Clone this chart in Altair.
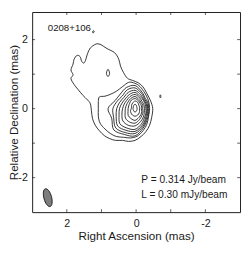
import math
import altair as alt
import pandas as pd

FONT = "Liberation Sans"
INK = "#1a1a1a"

# ---------------- data (mas; RA offset increases to the left) ----------------
SOURCE_NAME = "0208+106"
SOURCE_POS = (2.55, 2.32)
PEAK_TEXT = "P = 0.314 Jy/beam"
PEAK_POS = (-0.15, -2.07)
LOW_TEXT = "L = 0.30 mJy/beam"
LOW_POS = (-0.15, -2.52)

X_TICKS = [-2, -1, 0, 1, 2]
Y_TICKS = [-2, -1, 0, 1, 2]
LABELLED = [-2, 0, 2]

# level 1 contour (0.30 mJy/beam), traced
L1 = [(1.12, 1.88), (1.01, 1.85), (0.84, 1.74), (0.62, 1.62), (0.50, 1.43), (0.45, 1.23),
      (0.36, 1.04), (0.25, 0.88), (0.11, 0.82), (-0.06, 0.75), (-0.20, 0.63), (-0.31, 0.44),
      (-0.42, 0.22), (-0.48, 0.00), (-0.45, -0.25), (-0.39, -0.48), (-0.28, -0.67), (-0.14, -0.81),
      (0.03, -0.92), (0.22, -0.95), (0.39, -0.92), (0.59, -0.92), (0.76, -0.87), (0.92, -0.78),
      (1.06, -0.64), (1.18, -0.48), (1.26, -0.28), (1.29, -0.06), (1.32, 0.14), (1.40, 0.25),
      (1.54, 0.39), (1.68, 0.56), (1.79, 0.70), (1.88, 0.87), (1.82, 0.98), (1.88, 1.12),
      (1.82, 1.29), (1.79, 1.43), (1.71, 1.54), (1.62, 1.51), (1.57, 1.37), (1.51, 1.32),
      (1.46, 1.40), (1.40, 1.60), (1.32, 1.76), (1.20, 1.85)]
# level 2 contour, traced
L2 = [(1.06, 0.34), (0.90, 0.36), (0.73, 0.42), (0.56, 0.51), (0.39, 0.64), (0.22, 0.76),
      (0.08, 0.75), (-0.08, 0.67), (-0.22, 0.50), (-0.34, 0.28), (-0.39, 0.03), (-0.36, -0.22),
      (-0.31, -0.45), (-0.20, -0.64), (-0.03, -0.80), (0.17, -0.85), (0.36, -0.83), (0.56, -0.81),
      (0.73, -0.73), (0.90, -0.59), (1.04, -0.42), (1.09, -0.22), (1.09, 0.00), (1.09, 0.20)]
# small level-1 islands
ISLAND = [(0.81, 1.14), (0.77, 1.06), (0.77, 0.99), (0.81, 0.93), (0.85, 0.99), (0.85, 1.06)]
SPECK_W = [(-0.70, 0.40), (-0.715, 0.355), (-0.70, 0.31), (-0.685, 0.355)]
SPECK_N = [(1.23, 2.26), (1.21, 2.23), (1.24, 2.19), (1.255, 2.23)]

# core contours (levels 3..11): radius (mas) read along directions
# measured from north towards west around the core centre
CORE_CENTRE = (0.03, 0.0)
DIRS = [0, 22.5, 45, 67.5, 90, 112.5, 135, 157.5, 180, 202.5, 225, 247.5, 270, 292.5, 315, 337.5]
R3 = [0.67, 0.52, 0.42, 0.41, 0.39, 0.42, 0.48, 0.61, 0.79, 0.81, 0.87, 0.73, 0.78, 0.62, 0.60, 0.66]
R4 = [0.60, 0.48, 0.39, 0.38, 0.36, 0.39, 0.45, 0.57, 0.72, 0.75, 0.79, 0.67, 0.64, 0.56, 0.52, 0.59]
R5 = [0.53, 0.43, 0.36, 0.35, 0.34, 0.36, 0.42, 0.53, 0.66, 0.68, 0.71, 0.59, 0.53, 0.48, 0.46, 0.51]
R6 = [0.47, 0.38, 0.34, 0.32, 0.31, 0.34, 0.38, 0.48, 0.60, 0.61, 0.62, 0.50, 0.45, 0.41, 0.40, 0.44]
R7 = [0.41, 0.34, 0.29, 0.28, 0.27, 0.29, 0.34, 0.41, 0.50, 0.52, 0.50, 0.41, 0.36, 0.34, 0.34, 0.38]
R8 = [0.35, 0.29, 0.25, 0.24, 0.22, 0.25, 0.28, 0.34, 0.42, 0.42, 0.39, 0.31, 0.28, 0.27, 0.28, 0.32]
R9 = [0.29, 0.25, 0.21, 0.20, 0.18, 0.21, 0.24, 0.28, 0.34, 0.31, 0.28, 0.22, 0.20, 0.20, 0.22, 0.27]
R10 = [0.22, 0.20, 0.15, 0.14, 0.13, 0.14, 0.17, 0.20, 0.22, 0.20, 0.17, 0.14, 0.11, 0.11, 0.14, 0.18]
R11 = [0.13, 0.10, 0.07, 0.06, 0.06, 0.06, 0.07, 0.08, 0.11, 0.08, 0.07, 0.06, 0.06, 0.06, 0.07, 0.10]

BEAM_POS = (2.55, -2.58)

# ---------------- build tables ----------------
rows = []
cid = 0
for pts in [L1, L2, ISLAND, SPECK_W, SPECK_N]:
    for i, (x, y) in enumerate(pts):
        rows.append({"cid": cid, "i": i, "ra": x, "dec": y})
    cid += 1
for radii in [R3, R4, R5, R6, R7, R8, R9, R10, R11]:
    for i, (d, r) in enumerate(zip(DIRS, radii)):
        a = math.radians(d)
        rows.append({"cid": cid, "i": i,
                     "ra": CORE_CENTRE[0] - r * math.sin(a),
                     "dec": CORE_CENTRE[1] + r * math.cos(a)})
    cid += 1
contour_df = pd.DataFrame(rows)

text_df = pd.DataFrame({
    "ra": [SOURCE_POS[0], PEAK_POS[0], LOW_POS[0]],
    "dec": [SOURCE_POS[1], PEAK_POS[1], LOW_POS[1]],
    "t": [SOURCE_NAME, PEAK_TEXT, LOW_TEXT],
    "fs": [10, 10.5, 10.5],
})
beam_df = pd.DataFrame({"ra": [BEAM_POS[0]], "dec": [BEAM_POS[1]]})
xt_df = pd.DataFrame({"v": X_TICKS})
yt_df = pd.DataFrame({"v": Y_TICKS})

XMIN, XMAX = -3, 3
YMIN, YMAX = -3, 2.8
xs = alt.Scale(domain=[XMIN, XMAX], reverse=True, nice=False, zero=False)
ys = alt.Scale(domain=[YMIN, YMAX], nice=False, zero=False)

x_axis = alt.Axis(values=LABELLED, labelExpr="'' + datum.value", title="Right Ascension (mas)",
                  labelPadding=6, titleY=28, titleBaseline="alphabetic")
y_axis = alt.Axis(values=LABELLED, labelExpr="'' + datum.value", title="Relative Declination (mas)",
                  labelPadding=5, titleX=-15, titleBaseline="alphabetic")


def X(field=None, datum=None):
    if datum is not None:
        return alt.X(datum=datum, scale=xs, axis=x_axis)
    return alt.X(field, type="quantitative", scale=xs, axis=x_axis)


def Y(field=None, datum=None):
    if datum is not None:
        return alt.Y(datum=datum, scale=ys, axis=y_axis)
    return alt.Y(field, type="quantitative", scale=ys, axis=y_axis)


contours = alt.Chart(contour_df).mark_line(
    interpolate="cardinal-closed", color=INK, strokeWidth=0.9
).encode(x=X("ra"), y=Y("dec"), detail="cid:N", order="i:Q")

ELLIPSE = ("M0,-1 C0.232,-1 0.42,-0.552 0.42,0 C0.42,0.552 0.232,1 0,1 "
           "C-0.232,1 -0.42,0.552 -0.42,0 C-0.42,-0.552 -0.232,-1 0,-1 Z")
beam = alt.Chart(beam_df).mark_point(
    shape=ELLIPSE, size=361, angle=345, filled=True, fill="#7d7d7d",
    stroke=INK, strokeWidth=0.9, opacity=1
).encode(x=X("ra"), y=Y("dec"))

texts = alt.Chart(text_df).mark_text(
    align="left", baseline="middle", font=FONT, color=INK
).encode(
    x=X("ra"), y=Y("dec"), text="t:N",
    size=alt.Size("fs:Q", scale=None, legend=None),
)

TL = 3
bottom_ticks = alt.Chart(xt_df).mark_tick(orient="vertical", size=TL, thickness=1, color=INK,
                                          yOffset=-TL / 2).encode(x=X("v"), y=Y(datum=YMIN))
top_ticks = alt.Chart(xt_df).mark_tick(orient="vertical", size=TL, thickness=1, color=INK,
                                       yOffset=TL / 2).encode(x=X("v"), y=Y(datum=YMAX))
left_ticks = alt.Chart(yt_df).mark_tick(orient="horizontal", size=TL, thickness=1, color=INK,
                                        xOffset=TL / 2).encode(y=Y("v"), x=X(datum=XMAX))
right_ticks = alt.Chart(yt_df).mark_tick(orient="horizontal", size=TL, thickness=1, color=INK,
                                         xOffset=-TL / 2).encode(y=Y("v"), x=X(datum=XMIN))

chart = alt.layer(
    contours, beam, texts, bottom_ticks, top_ticks, left_ticks, right_ticks
).properties(
    width=215, height=207,
    autosize=alt.AutoSizeParams(type="none"),
    padding={"left": 25, "top": 0, "right": 1, "bottom": 35},
    background="white",
).configure_view(
    stroke=INK, strokeWidth=1
).configure_axis(
    grid=False, ticks=False, domain=False,
    labelFont=FONT, labelFontSize=11, labelColor=INK,
    titleFont=FONT, titleFontSize=12, titleColor=INK, titleFontWeight="normal",
)

chart.save("out.html", embed_options={"renderer": "svg", "actions": False})
